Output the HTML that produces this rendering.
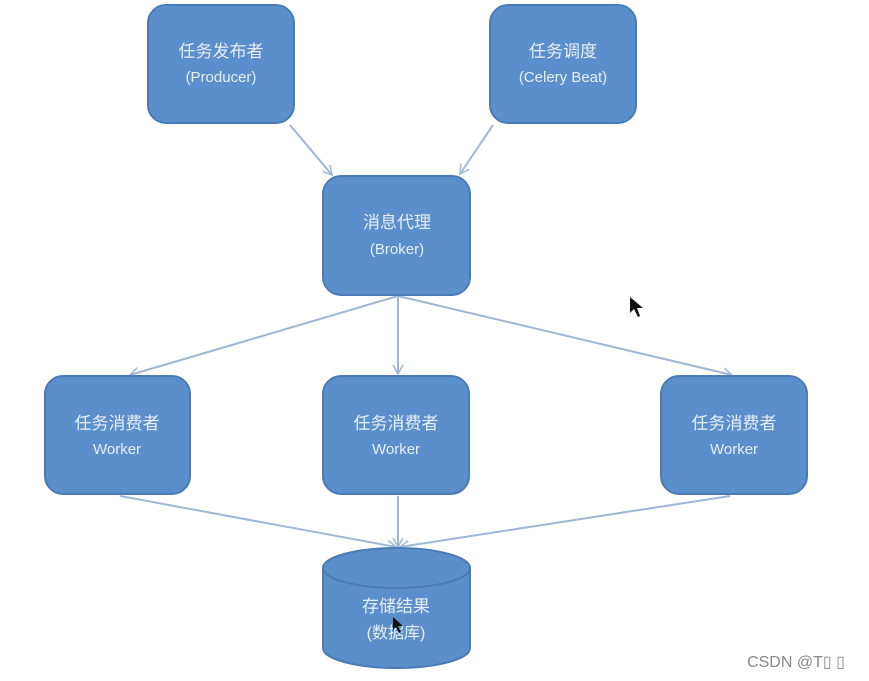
<!DOCTYPE html>
<html><head><meta charset="utf-8"><style>
html,body{margin:0;padding:0;background:#fff;}
svg{display:block}
text{font-family:"Liberation Sans","Noto Sans CJK SC",sans-serif;fill:#e8eef7;text-anchor:middle}
</style></head><body>
<svg width="869" height="681" viewBox="0 0 869 681">
<defs>
<marker id="a" markerWidth="12" markerHeight="12" refX="10" refY="6" orient="auto" markerUnits="userSpaceOnUse">
<path d="M1,1 L10,6 L1,11" fill="none" stroke="#9fb6d6" stroke-width="1.5"/>
</marker>
</defs>
<g stroke="#9fb6d6" stroke-width="2" fill="none" marker-end="url(#a)">
<line x1="290" y1="125" x2="332" y2="175"/>
<line x1="493" y1="125" x2="460" y2="174"/>
<line x1="398" y1="296" x2="130" y2="375"/>
<line x1="398" y1="296" x2="398" y2="374"/>
<line x1="398" y1="296" x2="732" y2="375"/>
<line x1="120" y1="496" x2="396" y2="547"/>
<line x1="398" y1="496" x2="398" y2="547"/>
<line x1="730" y1="496" x2="400" y2="547"/>
</g>
<g fill="#5b8fcc" stroke="#4a7bb6" stroke-width="2">
<rect x="148" y="5" width="146" height="118" rx="18"/>
<rect x="490" y="5" width="146" height="118" rx="18"/>
<rect x="323" y="176" width="147" height="119" rx="18"/>
<rect x="45" y="376" width="145" height="118" rx="18"/>
<rect x="323" y="376" width="146" height="118" rx="18"/>
<rect x="661" y="376" width="146" height="118" rx="18"/>
<path d="M323,568 L323,648 A73.5,20 0 0 0 470,648 L470,568 A73.5,20 0 0 0 323,568 Z"/>
<path d="M323,568 A73.5,20 0 0 0 470,568" fill="none"/>
</g>
<g font-size="17">
<text x="221" y="57">任务发布者</text><text x="221" y="82" font-size="15">(Producer)</text>
<text x="563" y="57">任务调度</text><text x="563" y="82" font-size="15">(Celery Beat)</text>
<text x="397" y="228">消息代理</text><text x="397" y="254" font-size="15">(Broker)</text>
<text x="117" y="429">任务消费者</text><text x="117" y="454" font-size="15">Worker</text>
<text x="396" y="429">任务消费者</text><text x="396" y="454" font-size="15">Worker</text>
<text x="734" y="429">任务消费者</text><text x="734" y="454" font-size="15">Worker</text>
<text x="396" y="612">存储结果</text><text x="396" y="638" font-size="16">(数据库)</text>
</g>
<path d="M630,297 L630,313 L634,309 L638,317 L640,316 L637,308 L643,308 Z" fill="#111"/>
<path d="M393,617 L393,630 L396,627 L399,633 L401,632 L398,626 L403,626 Z" fill="#111"/>
<text x="796" y="667" font-size="16" style="fill:#888">CSDN @T▯ ▯</text>
</svg>
</body></html>
